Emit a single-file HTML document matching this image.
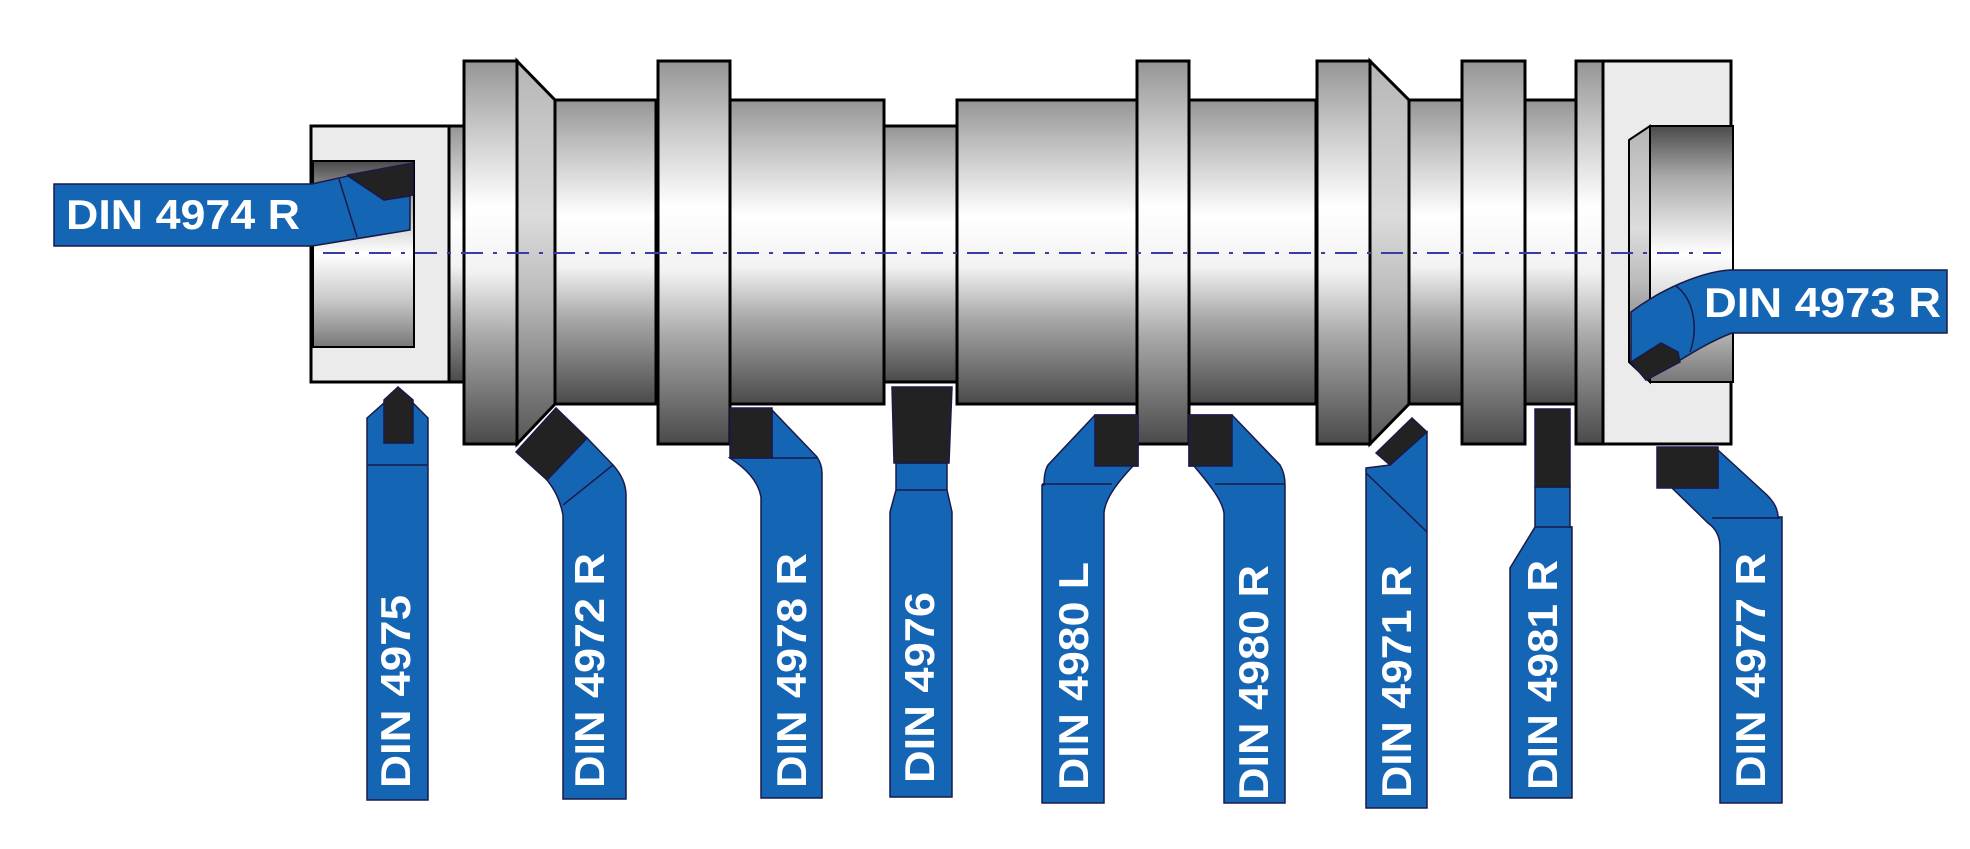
<!DOCTYPE html>
<html><head><meta charset="utf-8"><style>html,body{margin:0;padding:0;background:#fff}svg{display:block}</style></head>
<body>
<svg width="1970" height="849" viewBox="0 0 1970 849" xmlns="http://www.w3.org/2000/svg">
<defs>
<linearGradient id="cyl" x1="0" y1="0" x2="0" y2="1">
<stop offset="0" stop-color="#959595"/><stop offset="0.18" stop-color="#c9c9c9"/><stop offset="0.38" stop-color="#ffffff"/><stop offset="0.55" stop-color="#f2f2f2"/><stop offset="0.72" stop-color="#a8a8a8"/><stop offset="1" stop-color="#4a4a4a"/>
</linearGradient>
<linearGradient id="tap" x1="0" y1="0" x2="0" y2="1">
<stop offset="0" stop-color="#b5b5b5"/><stop offset="0.4" stop-color="#dcdcdc"/><stop offset="0.6" stop-color="#bdbdbd"/><stop offset="1" stop-color="#555"/>
</linearGradient>
<linearGradient id="cav" x1="0" y1="0" x2="0" y2="1">
<stop offset="0" stop-color="#4a4a4a"/><stop offset="0.2" stop-color="#aaa"/><stop offset="0.5" stop-color="#fff"/><stop offset="0.75" stop-color="#c8c8c8"/><stop offset="1" stop-color="#777"/>
</linearGradient>
</defs>
<g stroke="#000" stroke-width="3">
<rect x="311" y="126" width="138" height="256" fill="#ebebeb"/>
<rect x="313" y="161" width="101" height="186" fill="url(#cav)" stroke-width="2"/>
<rect x="449" y="126" width="15" height="256" fill="url(#cyl)"/>
<rect x="464" y="61" width="53" height="383" fill="url(#cyl)"/>
<polygon points="517,61 555,100 555,404 517,444" fill="url(#tap)"/>
<rect x="555" y="100" width="101" height="304" fill="url(#cyl)"/>
<rect x="658" y="61" width="72" height="383" fill="url(#cyl)"/>
<rect x="730" y="100" width="154" height="304" fill="url(#cyl)"/>
<rect x="884" y="126" width="73" height="256" fill="url(#cyl)"/>
<rect x="957" y="100" width="180" height="304" fill="url(#cyl)"/>
<rect x="1137" y="61" width="52" height="383" fill="url(#cyl)"/>
<rect x="1189" y="100" width="127" height="304" fill="url(#cyl)"/>
<rect x="1317" y="61" width="53" height="383" fill="url(#cyl)"/>
<polygon points="1370,61 1409,100 1409,404 1370,444" fill="url(#tap)"/>
<rect x="1409" y="100" width="53" height="304" fill="url(#cyl)"/>
<rect x="1462" y="61" width="63" height="383" fill="url(#cyl)"/>
<rect x="1525" y="100" width="51" height="304" fill="url(#cyl)"/>
<rect x="1576" y="61" width="27" height="383" fill="url(#cyl)"/>
<rect x="1603" y="61" width="128" height="383" fill="#ebebeb"/>
<polygon points="1629,140 1650,126 1650,382 1629,362" fill="url(#tap)" stroke-width="2"/>
<rect x="1650" y="126" width="83" height="256" fill="url(#cav)" stroke-width="2"/>
</g>
<line x1="323" y1="253" x2="1721" y2="253" stroke="#3a3aa8" stroke-width="2" stroke-dasharray="22,10,4,10"/>

<g stroke="#1a1a4a" stroke-width="1.5" fill="#1565b5">
<polygon points="54,184 312,184 348,176 384,200 410,196 410,230 312,246 54,246"/>
<polygon points="348,175 413,163 413,195 384,200" fill="#222"/>
<line x1="339" y1="179" x2="357" y2="237"/>
<path d="M1947,270 L1730,270 C1700,272 1660,290 1631,312 L1631,362 L1646,380 C1670,368 1700,345 1732,333 L1947,333 Z"/>
<polygon points="1631,362 1661,343 1678,352 1680,362 1646,380" fill="#222"/>
<path d="M1676,286 C1695,300 1698,330 1690,352" fill="none"/>
<polygon points="367,418 384,403 413,403 428,418 428,800 367,800"/>
<polygon points="384,443 384,400 398,387 413,400 413,443" fill="#222"/>
<line x1="367" y1="465" x2="428" y2="465"/>
<path d="M547,480 L587,438 L613,465 C622,475 626,485 626,495 L626,799 L563,799 L563,515 C560,500 555,490 547,480 Z"/>
<polygon points="516,452 556,408 587,438 547,480" fill="#222"/>
<line x1="563" y1="505" x2="613" y2="465"/>
<path d="M772,410 L817,457 C821,463 822,468 822,473 L822,798 L761,798 L761,497 C758,480 745,468 730,458 L772,458 Z"/>
<rect x="730" y="408" width="42" height="50" fill="#222"/>
<line x1="772" y1="458" x2="817" y2="458"/>
<polygon points="896,463 947,463 947,490 952,512 952,797 890,797 890,512 896,490"/>
<polygon points="892,387 952,387 949,463 894,463" fill="#222"/>
<line x1="896" y1="490" x2="947" y2="490"/>
<path d="M1095,415 L1048,465 C1045,470 1044,477 1044,485 L1042,485 L1042,803 L1104,803 L1104,513 C1105,500 1115,485 1133,466 L1138,466 L1138,415 Z"/>
<rect x="1095" y="415" width="43" height="51" fill="#222"/>
<line x1="1042" y1="484" x2="1112" y2="484"/>
<path d="M1232,415 L1280,465 C1283,470 1285,477 1285,485 L1285,803 L1224,803 L1224,513 C1222,500 1210,485 1194,466 L1189,466 L1189,415 Z"/>
<rect x="1189" y="415" width="43" height="51" fill="#222"/>
<line x1="1215" y1="484" x2="1285" y2="484"/>
<polygon points="1366,468 1390,465 1427,432 1427,808 1366,808"/>
<polygon points="1376,453 1412,418 1427,432 1390,465" fill="#222"/>
<line x1="1366" y1="473" x2="1427" y2="532"/>
<polygon points="1535,487 1570,487 1570,527 1572,527 1572,798 1510,798 1510,568 1535,527"/>
<rect x="1535" y="409" width="35" height="78" fill="#222"/>
<line x1="1535" y1="527" x2="1572" y2="527"/>
<path d="M1718,450 L1767,495 C1774,502 1778,510 1778,517 L1782,517 L1782,803 L1720,803 L1720,547 C1720,535 1715,528 1708,523 L1672,488 L1718,488 Z"/>
<rect x="1657" y="447" width="61" height="41" fill="#222"/>
<line x1="1712" y1="518" x2="1780" y2="518"/>
</g>

<g fill="#fff" font-family="Liberation Sans, sans-serif" font-weight="bold" font-size="42">
<text x="66" y="229" textLength="234" lengthAdjust="spacingAndGlyphs">DIN 4974 R</text>
<text x="1704" y="317" textLength="237" lengthAdjust="spacingAndGlyphs">DIN 4973 R</text>
<text transform="translate(410,788) rotate(-90)" textLength="193" lengthAdjust="spacingAndGlyphs">DIN 4975</text>
<text transform="translate(604,788) rotate(-90)" textLength="235" lengthAdjust="spacingAndGlyphs">DIN 4972 R</text>
<text transform="translate(806,788) rotate(-90)" textLength="235" lengthAdjust="spacingAndGlyphs">DIN 4978 R</text>
<text transform="translate(934,783) rotate(-90)" textLength="191" lengthAdjust="spacingAndGlyphs">DIN 4976</text>
<text transform="translate(1088,790) rotate(-90)" textLength="228" lengthAdjust="spacingAndGlyphs">DIN 4980 L</text>
<text transform="translate(1268,800) rotate(-90)" textLength="235" lengthAdjust="spacingAndGlyphs">DIN 4980 R</text>
<text transform="translate(1411,798) rotate(-90)" textLength="233" lengthAdjust="spacingAndGlyphs">DIN 4971 R</text>
<text transform="translate(1557,790) rotate(-90)" textLength="230" lengthAdjust="spacingAndGlyphs">DIN 4981 R</text>
<text transform="translate(1765,788) rotate(-90)" textLength="235" lengthAdjust="spacingAndGlyphs">DIN 4977 R</text>
</g>
</svg>
</body></html>
